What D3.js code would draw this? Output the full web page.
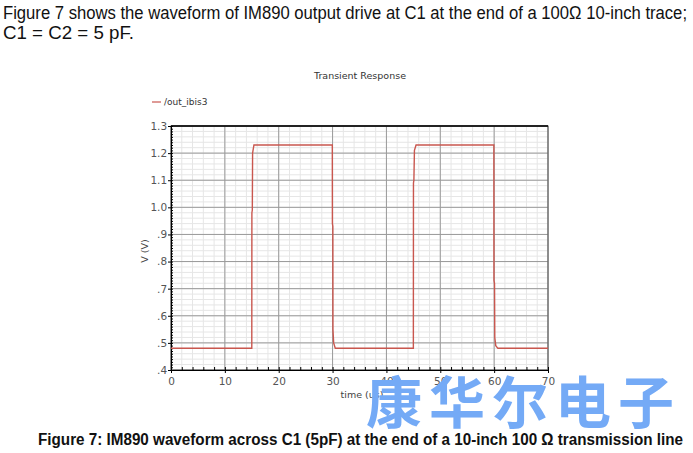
<!DOCTYPE html>
<html>
<head>
<meta charset="utf-8">
<script src="https://cdn.jsdelivr.net/npm/d3@7"></script>
<style>
  body { margin: 0; background: #fff; }
  svg { display: block; }
</style>
</head>
<body>
<svg id="chart" width="693" height="453"></svg>
<script>
// waveform samples: time (us) and voltage (V)
const times = [0, 15.0, 15.02, 15.1, 15.15, 15.4, 29.95, 29.97, 30.05, 30.07, 30.2, 30.5,
  45.0, 45.02, 45.1, 45.2, 45.5, 59.95, 59.97, 60.07, 60.12, 60.3, 60.7, 70];
const volts = [0.48, 0.48, 0.98, 0.99, 1.2, 1.23, 1.23, 0.94, 0.93, 0.55, 0.5, 0.48,
  0.48, 1.09, 1.1, 1.21, 1.23, 1.23, 0.73, 0.72, 0.52, 0.49, 0.48, 0.48];

const xTicks = [0, 10, 20, 30, 40, 50, 60, 70];
const yTicks = [0.4, 0.5, 0.6, 0.7, 0.8, 0.9, 1.0, 1.1, 1.2, 1.3];
const yTickLabels = [".4", ".5", ".6", ".7", ".8", ".9", "1.0", "1.1", "1.2", "1.3"];

const seriesName = "/out_ibis3";
const chartTitle = "Transient Response";
const headLines = [
  "Figure 7 shows the waveform of IM890 output drive at C1 at the end of a 100\u03A9 10-inch trace;",
  "C1 = C2 = 5 pF."
];
const caption = "Figure 7: IM890 waveform across C1 (5pF) at the end of a 10-inch 100 \u03A9 transmission line";
const watermark = "康华尔电子";

const data = times.map((t, i) => ({ t, v: volts[i] }));

const svg = d3.select("#chart");
const plotLeft = 171, plotRight = 548, plotTop = 126, plotBottom = 370;

const x = d3.scaleLinear().domain([0, 70]).range([plotLeft, plotRight]);
const y = d3.scaleLinear().domain([0.4, 1.3]).range([plotBottom, plotTop]);

const narrow = "'Liberation Sans Narrow', 'Arial Narrow', 'Liberation Sans', sans-serif";
const plotFont = "'DejaVu Sans', Verdana, sans-serif";

// heading text
svg.selectAll(".head")
  .data(headLines)
  .join("text")
  .attr("class", "head")
  .attr("x", 3)
  .attr("y", (d, i) => 19 + i * 20)
  .attr("font-family", narrow)
  .attr("font-size", 17.5)
  .attr("fill", "#111")
  .attr("textLength", (d, i) => (i === 0 ? 684 : 131))
  .attr("lengthAdjust", "spacingAndGlyphs")
  .text((d) => d);

// title + legend
svg.append("text")
  .attr("x", 360).attr("y", 79)
  .attr("text-anchor", "middle")
  .attr("font-family", plotFont).attr("font-size", 9.5)
  .attr("fill", "#333")
  .text(chartTitle);

svg.append("line")
  .attr("x1", 152).attr("x2", 161)
  .attr("y1", 102).attr("y2", 102)
  .attr("stroke", "#c9574f").attr("stroke-width", 1.2);
svg.append("text")
  .attr("x", 164).attr("y", 105)
  .attr("font-family", plotFont).attr("font-size", 9)
  .attr("fill", "#333")
  .text(seriesName);

// grid
const grid = svg.append("g");
const xMinor = d3.range(0, 70.001, 2);
const yMinor = d3.range(0.4, 1.3001, 0.02);
grid.selectAll(".xminor").data(xMinor).join("line")
  .attr("x1", (d) => x(d)).attr("x2", (d) => x(d))
  .attr("y1", plotTop).attr("y2", plotBottom)
  .attr("stroke", "#e6e6e6").attr("stroke-width", 1);
grid.selectAll(".yminor").data(yMinor).join("line")
  .attr("x1", plotLeft).attr("x2", plotRight)
  .attr("y1", (d) => y(d)).attr("y2", (d) => y(d))
  .attr("stroke", "#e6e6e6").attr("stroke-width", 1);
grid.selectAll(".xmajor").data(xTicks).join("line")
  .attr("x1", (d) => x(d)).attr("x2", (d) => x(d))
  .attr("y1", plotTop).attr("y2", plotBottom)
  .attr("stroke", "#9a9a9a").attr("stroke-width", 1);
grid.selectAll(".ymajor").data(yTicks).join("line")
  .attr("x1", plotLeft).attr("x2", plotRight)
  .attr("y1", (d) => y(d)).attr("y2", (d) => y(d))
  .attr("stroke", "#9a9a9a").attr("stroke-width", 1);

// frame
svg.append("rect")
  .attr("x", plotLeft).attr("y", plotTop)
  .attr("width", plotRight - plotLeft).attr("height", plotBottom - plotTop)
  .attr("fill", "none").attr("stroke", "#555").attr("stroke-width", 1);
svg.append("line")
  .attr("x1", plotLeft).attr("x2", plotRight).attr("y1", plotTop).attr("y2", plotTop)
  .attr("stroke", "#000").attr("stroke-width", 1.5);

// axes
const xAxis = svg.append("g").attr("transform", `translate(0,${plotBottom})`);
xAxis.call(d3.axisTop(x).tickValues(d3.range(0, 70.001, 2)).tickSize(3).tickFormat(""))
  .call((g) => g.select(".domain").attr("stroke", "#000"));
xAxis.append("g")
  .call(d3.axisBottom(x).tickValues(xTicks).tickSize(3).tickFormat(d3.format("d")))
  .call((g) => g.select(".domain").remove())
  .call((g) => g.selectAll("text").attr("font-family", plotFont).attr("font-size", 10.5).attr("fill", "#555").attr("dy", "0.9em"));

const yAxis = svg.append("g").attr("transform", `translate(${plotLeft},0)`);
yAxis.call(d3.axisRight(y).tickValues(d3.range(0.4, 1.3001, 0.01)).tickSize(2).tickFormat(""))
  .call((g) => g.select(".domain").attr("stroke", "#000"));
yAxis.append("g")
  .call(d3.axisLeft(y).tickValues(yTicks).tickSize(3).tickFormat((d, i) => yTickLabels[i]))
  .call((g) => g.select(".domain").remove())
  .call((g) => g.selectAll("text").attr("font-family", plotFont).attr("font-size", 10.5).attr("fill", "#555").attr("dx", "0.2em"));

svg.append("text")
  .attr("transform", `translate(148,${(plotTop + plotBottom) / 2 + 3}) rotate(-90)`)
  .attr("text-anchor", "middle")
  .attr("font-family", plotFont).attr("font-size", 9.5)
  .attr("fill", "#444")
  .text("V (V)");
svg.append("text")
  .attr("x", 362).attr("y", 398)
  .attr("text-anchor", "middle")
  .attr("font-family", plotFont).attr("font-size", 9.5)
  .attr("fill", "#444")
  .text("time (us)");

// waveform
const line = d3.line().x((d) => x(d.t)).y((d) => y(d.v));
svg.append("path")
  .datum(data)
  .attr("d", line)
  .attr("fill", "none")
  .attr("stroke", "#c9574f")
  .attr("stroke-width", 1.4);

// watermark
svg.append("text")
  .attr("x", 366).attr("y", 423)
  .attr("font-family", "'Noto Sans CJK SC', sans-serif")
  .attr("font-weight", 700)
  .attr("font-size", 56)
  .attr("fill", "#74aaf6")
  .attr("textLength", 308)
  .attr("lengthAdjust", "spacing")
  .text(watermark);

// caption
svg.append("text")
  .attr("x", 38).attr("y", 445)
  .attr("font-family", narrow)
  .attr("font-weight", 700)
  .attr("font-size", 16)
  .attr("fill", "#111")
  .attr("textLength", 645)
  .attr("lengthAdjust", "spacingAndGlyphs")
  .text(caption);
</script>
</body>
</html>
